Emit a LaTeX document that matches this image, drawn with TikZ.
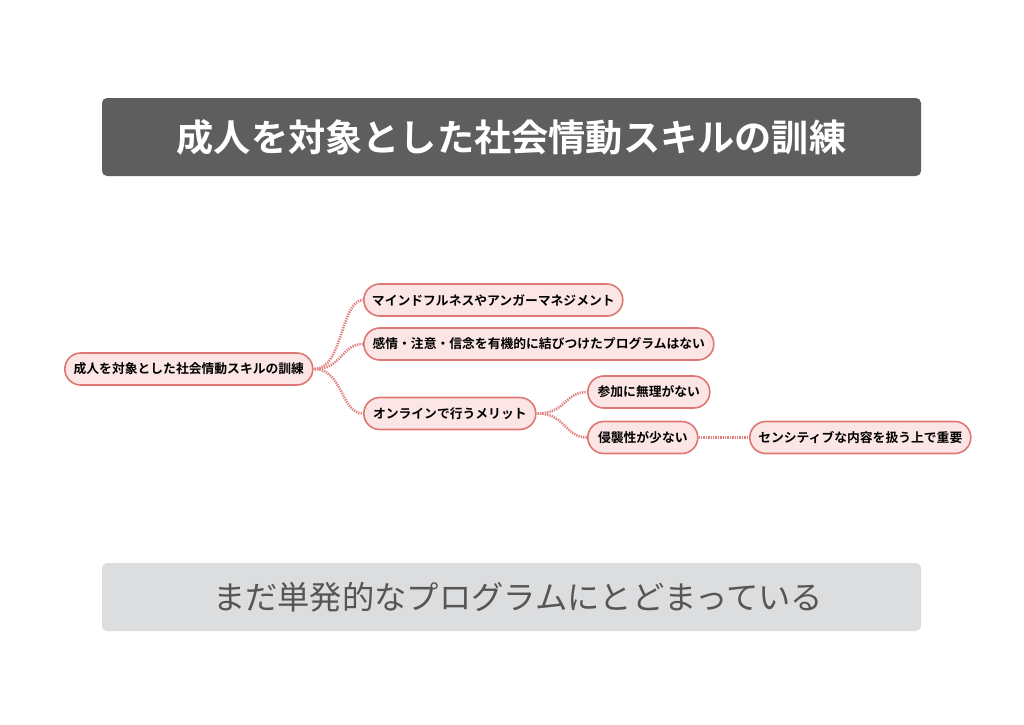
\documentclass[tikz,border=0pt]{standalone}
\usepackage{fontspec}
\setmainfont{Noto Sans CJK JP}[BoldFont={* Bold}]
\newfontfamily\cjk{Noto Sans CJK JP}[BoldFont={* Bold}]
\definecolor{titlebg}{HTML}{5E5E5E}
\definecolor{botbg}{HTML}{DCDDDF}
\definecolor{bottext}{HTML}{555555}
\definecolor{pinkfill}{HTML}{FCE6E5}
\definecolor{pinkline}{HTML}{DE7773}
\definecolor{linkcol}{HTML}{E0817D}
\tikzset{
  mm/.style={draw=pinkline, line width=1.6pt, fill=pinkfill, rounded corners=16pt,
    minimum height=32pt, inner sep=0pt, anchor=west,
    font=\cjk\bfseries\fontsize{12.8}{14}\selectfont, text=black},
  link/.style={draw=linkcol, line width=2.6pt, dash pattern=on 1.3pt off 1.1pt}
}
\begin{document}
\begin{tikzpicture}[x=1pt,y=-1pt]
\useasboundingbox (0,0) rectangle (1024,724);
\fill[white] (0,0) rectangle (1024,724);
% title bar
\node[fill=titlebg, rounded corners=5pt, minimum width=819pt, minimum height=78pt, inner sep=0pt,
  text=white, font=\cjk\bfseries\fontsize{37.2}{40}\selectfont] (title) at (511.5,137) {成人を対象とした社会情動スキルの訓練};
% bottom bar
\node[fill=botbg, rounded corners=5pt, minimum width=819pt, minimum height=68pt, inner sep=0pt] (bottom) at (511.5,597) {};
\node[text=bottext, font=\cjk\fontsize{32.3}{34}\selectfont, inner sep=0pt] (bottomtext) at (518,597) {まだ単発的なプログラムにとどまっている};
% mind map
\node[mm, minimum width=248pt] (root) at (64,369) {成人を対象とした社会情動スキルの訓練};
\node[mm, minimum width=259pt] (n1) at (363,300) {マインドフルネスやアンガーマネジメント};
\node[mm, minimum width=350pt] (n2) at (363,344) {感情・注意・信念を有機的に結びつけたプログラムはない};
\node[mm, minimum width=172pt] (n3) at (363,413.5) {オンラインで行うメリット};
\node[mm, minimum width=122pt] (n3a) at (587,392) {参加に無理がない};
\node[mm, minimum width=110pt] (n3b) at (587,437.5) {侵襲性が少ない};
\node[mm, minimum width=221pt] (n3c) at (749,437.5) {センシティブな内容を扱う上で重要};
% links
\draw[link] ([xshift=1pt]root.east) .. controls +(28,0) and +(-22,0) .. (n1.west);
\draw[link] ([xshift=1pt]root.east) .. controls +(28,0) and +(-22,0) .. (n2.west);
\draw[link] ([xshift=1pt]root.east) .. controls +(28,0) and +(-22,0) .. (n3.west);
\draw[link] ([xshift=1pt]n3.east) .. controls +(28,0) and +(-22,0) .. (n3a.west);
\draw[link] ([xshift=1pt]n3.east) .. controls +(28,0) and +(-22,0) .. (n3b.west);
\draw[link] (n3b.east) -- (n3c.west);
\end{tikzpicture}
\end{document}
